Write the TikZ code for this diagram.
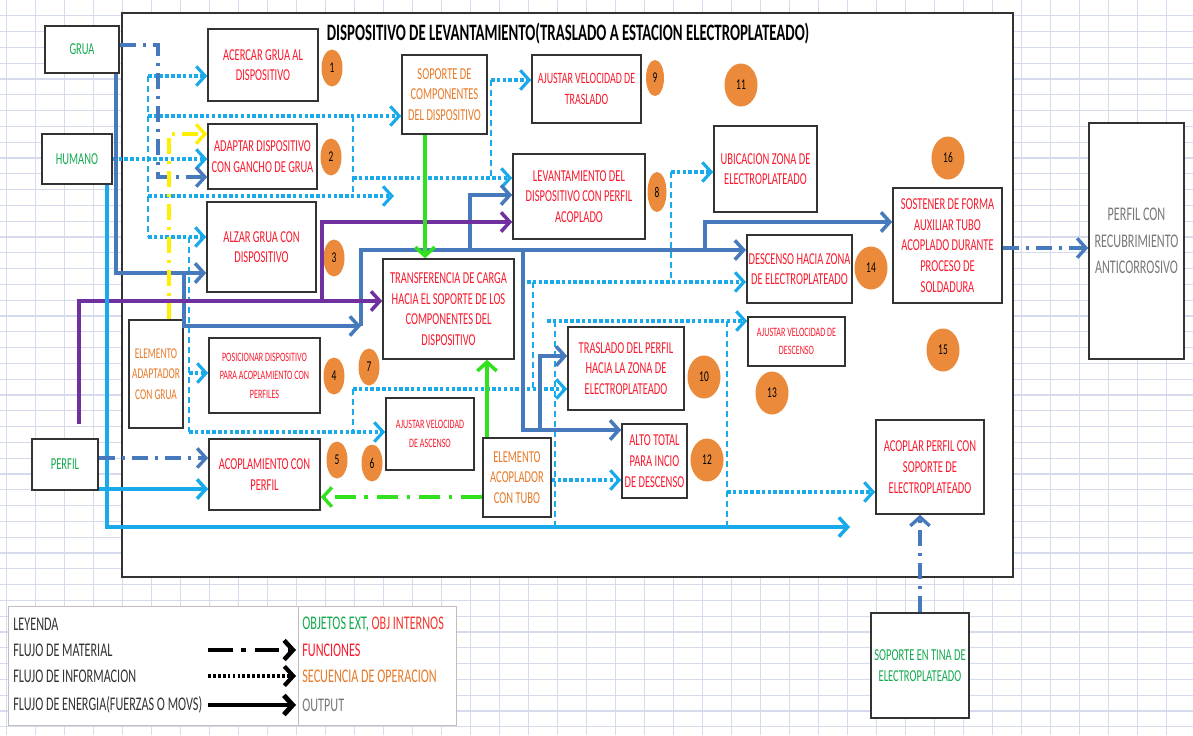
\documentclass[tikz,border=0pt]{standalone}
\usepackage{fontspec}
\setmainfont{Carlito}[FakeStretch=0.63]
\usetikzlibrary{arrows.meta,shapes.geometric}

\definecolor{fred}{RGB}{250,25,45}
\definecolor{fgreen}{RGB}{20,170,80}
\definecolor{forange}{RGB}{232,122,40}
\definecolor{fgray}{RGB}{120,120,120}
\definecolor{numorange}{RGB}{234,138,58}
\definecolor{lcyan}{RGB}{25,170,235}
\definecolor{lblue}{RGB}{70,122,188}
\definecolor{lpurple}{RGB}{112,48,160}
\definecolor{lgreen}{RGB}{50,225,30}
\definecolor{lyellow}{RGB}{255,240,0}
\definecolor{gridc}{RGB}{214,218,238}

\newcommand\fsz{\fontsize{9.5}{11.8}\selectfont}
\newcommand\fszs{\fontsize{7.3}{10.5}\selectfont}

\tikzset{
  sz/.style 2 args={minimum width=#1*0.02cm, minimum height=#2*0.02cm},
  basebox/.style={draw=black!80, line width=0.9pt, fill=white, align=center, inner sep=1pt, font=\fsz},
  fnbox/.style={basebox, text=fred},
  extbox/.style={basebox, text=fgreen},
  intbox/.style={basebox, text=forange},
  outbox/.style={basebox, text=fgray, font=\fontsize{11}{15}\selectfont},
  numc/.style={ellipse, fill=numorange, inner sep=0pt, font=\fontsize{8.5}{9}\selectfont, sz={21}{37}},
  numbig/.style={numc, sz={33}{43}},
  gridln/.style={draw=gridc, line width=0.7pt},
  info/.style={->, draw=lcyan, line width=1.8pt, dash pattern=on 2pt off 1.3pt},
  feed/.style={draw=lcyan, line width=1.1pt, dash pattern=on 3.5pt off 2.2pt},
  mat/.style={->, line width=1.9pt, dash pattern=on 9pt off 4pt on 1.8pt off 4pt},
  en/.style={->, line width=2pt},
  leg/.style={anchor=west, inner sep=0pt, font=\fontsize{11}{12}\selectfont}
}

\begin{document}
\begin{tikzpicture}[x=0.02cm,y=-0.02cm,>={Straight Barb[length=5pt,width=11pt]}]
\useasboundingbox (0,0) rectangle (1193,735);
\fill[white] (0,0) rectangle (1193,735);
\foreach \i in {0,...,40} \draw[gridln] ({6.7+29*\i},0) -- ({6.7+29*\i},735);
\foreach \j in {1,...,46} \draw[gridln] (0,{15.8*\j}) -- (1193,{15.8*\j});

\draw[draw=black!80, line width=1.2pt, fill=white] (122,13) rectangle (1013,577);
\node[font=\bfseries\fontsize{13.4}{15}\selectfont] (titulo) at (568,34)
  {DISPOSITIVO DE LEVANTAMIENTO(TRASLADO A ESTACION ELECTROPLATEADO)};

% objetos externos e internos
\node[extbox, sz={74}{47}] (grua) at (82,49.5) {GRUA};
\node[extbox, sz={70}{50}] (humano) at (77,159) {HUMANO};
\node[extbox, sz={66}{51}] (perfil) at (65,464.5) {PERFIL};
\node[intbox, sz={54}{108}, font=\fontsize{8.5}{11.5}\selectfont] (adapt) at (156,374) {ELEMENTO\\ADAPTADOR\\CON GRUA};
\node[intbox, sz={85}{79}] (soporte) at (444.5,94.5) {SOPORTE DE\\COMPONENTES\\DEL DISPOSITIVO};
\node[intbox, sz={68}{79}] (acopl) at (517,477.5) {ELEMENTO\\ACOPLADOR\\CON TUBO};
\node[extbox, sz={98}{105}] (tina) at (920,665.5) {SOPORTE EN TINA DE\\ELECTROPLATEADO};
\node[outbox, sz={95}{236}] (outp) at (1136.5,241) {PERFIL CON\\RECUBRIMIENTO\\ANTICORROSIVO};

% funciones
\node[fnbox, sz={110}{72}] (f1) at (263,65) {ACERCAR GRUA AL\\DISPOSITIVO};
\node[fnbox, sz={109}{65}] (f2) at (262.5,156.5) {ADAPTAR DISPOSITIVO\\CON GANCHO DE GRUA};
\node[fnbox, sz={109}{90}] (f3) at (261.5,247) {ALZAR GRUA CON\\DISPOSITIVO};
\node[fnbox, sz={111}{75}, font=\fszs] (f4) at (264.5,375.5) {POSICIONAR  DISPOSITIVO\\PARA ACOPLAMIENTO  CON\\PERFILES};
\node[fnbox, sz={111}{71}] (f5) at (264.5,474.5) {ACOPLAMIENTO CON\\PERFIL};
\node[fnbox, sz={88}{72}, font=\fszs] (f6) at (430,434) {AJUSTAR  VELOCIDAD\\DE ASCENSO};
\node[fnbox, sz={131}{100}] (f7) at (448.5,309) {TRANSFERENCIA DE CARGA\\HACIA  EL SOPORTE DE LOS\\COMPONENTES DEL\\DISPOSITIVO};
\node[fnbox, sz={132}{85}] (f8) at (579,196.5) {LEVANTAMIENTO DEL\\DISPOSITIVO CON PERFIL\\ACOPLADO};
\node[fnbox, sz={109}{68}, font=\fontsize{9}{11.8}\selectfont] (f9) at (586.5,89) {AJUSTAR VELOCIDAD DE\\TRASLADO};
\node[fnbox, sz={116}{83}] (f10) at (626,368.5) {TRASLADO DEL PERFIL\\HACIA LA ZONA DE\\ELECTROPLATEADO};
\node[fnbox, sz={103}{86}] (f11) at (765.5,169) {UBICACION ZONA DE\\ELECTROPLATEADO};
\node[fnbox, sz={65}{74}] (f12) at (654.5,461) {ALTO TOTAL\\PARA INCIO\\DE DESCENSO};
\node[fnbox, sz={97}{49}, font=\fszs] (f13) at (796.5,341.5) {AJUSTAR VELOCIDAD DE\\DESCENSO};
\node[fnbox, sz={105}{68}] (f14) at (799.5,269) {DESCENSO HACIA ZONA\\DE ELECTROPLATEADO};
\node[fnbox, sz={108}{94}] (f15) at (930,467) {ACOPLAR PERFIL CON\\SOPORTE DE\\ELECTROPLATEADO};
\node[fnbox, sz={109}{115}] (f16) at (947.5,245.5) {SOSTENER DE FORMA\\AUXILIAR TUBO\\ACOPLADO DURANTE\\PROCESO DE\\SOLDADURA};

% secuencia
\node[numc] (n1) at (332,68) {1};
\node[numc] (n2) at (331,157) {2};
\node[numc] (n3) at (334,258) {3};
\node[numc] (n4) at (334,376) {4};
\node[numc] (n5) at (337,460) {5};
\node[numc] (n6) at (372,463) {6};
\node[numc] (n7) at (369,367) {7};
\node[numc, sz={19}{40}] (n8) at (657,192) {8};
\node[numc, sz={18}{36}] (n9) at (655,78) {9};
\node[numbig] (n10) at (704,377) {10};
\node[numbig] (n11) at (741,85) {11};
\node[numbig] (n12) at (707,460) {12};
\node[numbig] (n13) at (772,393) {13};
\node[numbig] (n14) at (871,268) {14};
\node[numbig] (n15) at (943,350) {15};
\node[numbig] (n16) at (948,158) {16};

% flujo de informacion
\draw[feed] (148,76) -- (148,237);
\draw[info] (148,76) -- (f1.west |- 0,76);
\draw[info] (148,116) -- (soporte.west |- 0,116);
\draw[info] (humano.east) -- (f2.west |- humano.east);
\coordinate (libre1) at (394,196);
\draw[info] (148,196) -- (libre1);
\draw[info] (148,237) -- (f3.west |- 0,237);
\draw[feed] (353,116) -- (353,196);
\draw[info] (353,178) -- (f8.west |- 0,178);
\draw[feed] (491,80) -- (491,178);
\draw[info] (491,80) -- (f9.west |- 0,80);
\draw[feed] (189,237) -- (189,432);
\draw[info] (189,373) -- (f4.west |- 0,373);
\draw[info] (189,432) -- (f6.west |- 0,432);
\draw[feed] (353,389) -- (353,432);
\draw[info] (353,389) -- (f10.west |- 0,389);
\draw[feed] (533,282) -- (533,389);
\draw[info] (527,282) -- (f14.west |- 0,282);
\draw[feed] (671,172) -- (671,282);
\draw[info] (671,172) -- (f11.west |- 0,172);
\draw[info] (547,321) -- (f13.west |- 0,321);
\draw[feed] (555,321) -- (555,527);
\draw[feed] (727,321) -- (727,527);
\draw[info] (acopl.east |- 0,480) -- (f12.west |- 0,480);
\draw[info] (727,492) -- (f15.west |- 0,492);

% flujo de energia
\draw[en, lblue] (grua.south -| 116,0) |- (f3.west |- 0,273);
\coordinate (j1) at (361,326);
\draw[en, lblue] (184,273) |- (j1);
\draw[en, lblue] (j1) |- (f14.west |- 0,250);
\draw[en, lblue] (470,250) |- (f8.west |- 0,195);
\draw[en, lblue] (705,250) |- (f16.west |- 0,222);
\draw[en, lblue] (523,250) |- (f12.west |- 0,430);
\draw[en, lblue] (540,430) |- (f10.west |- 0,356);
\draw[en, lpurple] (79,424) |- (f7.west |- 0,301);
\draw[en, lpurple] (322,301) |- (f8.west |- 0,222);
\coordinate (libre2) at (850,527);
\draw[en, lcyan] (humano.south -| 107,0) |- (libre2);
\draw[en, lcyan] (perfil.east |- 0,489) -- (f5.west |- 0,489);
\draw[en, lgreen] (soporte.south -| 425,0) -- (f7.north -| 425,0);
\draw[en, lgreen] (acopl.north -| 487,0) -- (f7.south -| 487,0);

% flujo de material
\draw[mat, lblue] (grua.east |- 0,45) -| (158,177) -- (f2.west |- 0,177);
\draw[mat, lyellow] (adapt.north -| 169,0) |- (f2.west |- 0,134);
\draw[mat, lblue] (perfil.east |- 0,458) -- (f5.west |- 0,458);
\draw[mat, lgreen, dash pattern=on 12pt off 5pt on 2pt off 5pt] (acopl.west |- 0,497) -- (f5.east |- 0,497);
\draw[mat, lblue] (f16.east |- 0,248) -- (outp.west |- 0,248);
\draw[mat, lblue] (tina.north) -- (f15.south -| tina.north);

% leyenda
\draw[draw=black!25, fill=white] (8,606) rectangle (456,725);
\draw[black!25] (298,606) -- (298,725);
\node[leg, text=black!80] (ley) at (13,624) {LEYENDA};
\node[leg, text=black!80] (lmat) at (13,650) {FLUJO DE MATERIAL};
\node[leg, text=black!80] (linf) at (13,676) {FLUJO DE INFORMACION};
\node[leg, text=black!80] (lene) at (13,705) {FLUJO DE  ENERGIA(FUERZAS  O MOVS)};
\coordinate (m0) at (208,650); \coordinate (m1) at (296,650);
\coordinate (i0) at (208,676); \coordinate (i1) at (296,676);
\coordinate (e0) at (208,705); \coordinate (e1) at (296,705);
\draw[mat, black, line width=2.6pt, dash pattern=on 14pt off 5pt on 2.5pt off 5pt] (m0) -- (m1);
\draw[info, black, line width=2.4pt, dash pattern=on 1.6pt off 1.2pt] (i0) -- (i1);
\draw[en, black, line width=2.8pt] (e0) -- (e1);
\node[leg] (lobj) at (302,624) {\color{fgreen}OBJETOS EXT, \color{fred!70!forange}OBJ INTERNOS};
\node[leg, text=fred] (lfun) at (302,650) {FUNCIONES};
\node[leg, text=forange] (lsec) at (302,676) {SECUENCIA  DE OPERACION};
\node[leg, text=fgray] (lout) at (302,705) {OUTPUT};
\end{tikzpicture}
\end{document}
